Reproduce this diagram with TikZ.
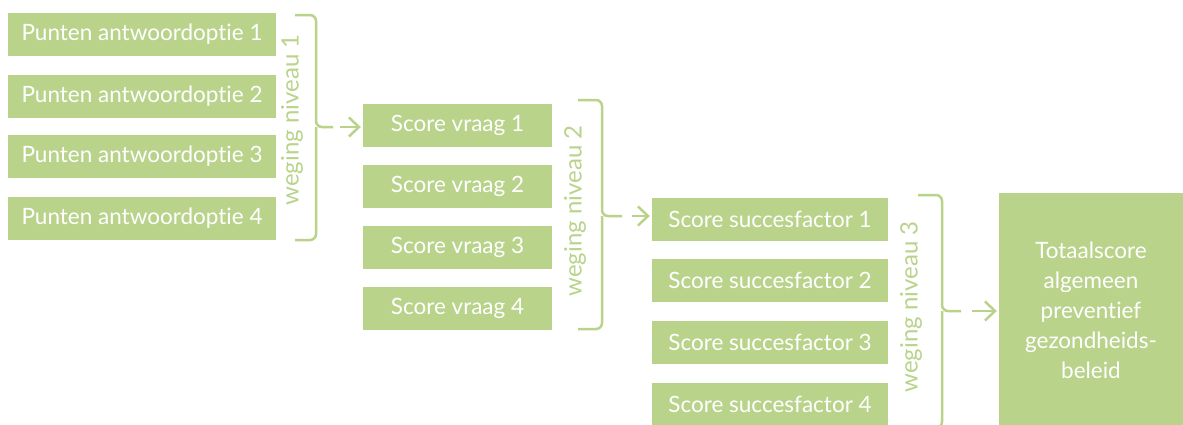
\documentclass[tikz,border=0pt]{standalone}
\usepackage{fontspec}
\setmainfont{Lato}[Ligatures=NoCommon]
\usetikzlibrary{arrows.meta, positioning}
\definecolor{weeggroen}{RGB}{185,211,139}

\begin{document}
\begin{tikzpicture}[x=1pt, y=-1pt,
    blok/.style={fill=weeggroen, text=white, inner sep=0pt, minimum height=43pt,
        font=\fontsize{22.5}{30}\selectfont},
    antwoord/.style={blok, minimum width=268pt},
    vraag/.style={blok, minimum width=189pt},
    factor/.style={blok, minimum width=236pt},
    weging/.style={text=weeggroen, rotate=90, font=\fontsize{24}{28}\selectfont},
    haak/.style={draw=weeggroen, line width=2.5pt, rounded corners=6pt},
    pijl/.style={draw=weeggroen, line width=2.5pt, shorten >=2pt,
        -{Straight Barb[length=10pt, width=19pt]}}
]
    \useasboundingbox (0,0) rectangle (1183,424);

    % niveau 1: punten per antwoordoptie
    \node[antwoord] (a1) at (142,34.5) {Punten antwoordoptie 1};
    \node[antwoord] (a2) at (142,96.5) {Punten antwoordoptie 2};
    \node[antwoord] (a3) at (142,156.5) {Punten antwoordoptie 3};
    \node[antwoord] (a4) at (142,218.5) {Punten antwoordoptie 4};
    \draw[haak] (295,15) -- (316,15) -- (316,127) -- (333,127);
    \draw[haak] (295,240) -- (316,240) -- (316,127);
    \node[weging] (w1) at (292,120) {weging niveau 1};
    \coordinate (t1) at (340,127);

    % niveau 2: score per vraag
    \node[vraag] (v1) at (457.5,125.5) {Score vraag 1};
    \node[vraag] (v2) at (457.5,186) {Score vraag 2};
    \node[vraag] (v3) at (457.5,247) {Score vraag 3};
    \node[vraag] (v4) at (457.5,308) {Score vraag 4};
    \draw[pijl] (t1) -- (t1 -| v1.west);
    \draw[haak] (578,100) -- (602,100) -- (602,216) -- (622,216);
    \draw[haak] (578,329) -- (602,329) -- (602,216);
    \node[weging] (w2) at (575,211) {weging niveau 2};
    \coordinate (t2) at (632,216);

    % niveau 3: score per succesfactor
    \node[factor] (s1) at (770,219) {Score succesfactor 1};
    \node[factor] (s2) at (770,280) {Score succesfactor 2};
    \node[factor] (s3) at (770,342) {Score succesfactor 3};
    \node[factor] (s4) at (770,404) {Score succesfactor 4};
    \draw[pijl] (t2) -- (t2 -| s1.west);
    \draw[haak] (918,195) -- (942,195) -- (942,311) -- (961,311);
    \draw[haak] (918,428) -- (942,428) -- (942,311);
    \node[weging] (w3) at (911,307) {weging niveau 3};
    \coordinate (t3) at (972,311);

    % totaal
    \node[blok, minimum width=184pt, minimum height=236pt, align=center] (tot) at (1091,310.5)
        {Totaalscore\\algemeen\\preventief\\gezondheids-\\beleid};
    \draw[pijl] (t3) -- (t3 -| tot.west);
\end{tikzpicture}
\end{document}
